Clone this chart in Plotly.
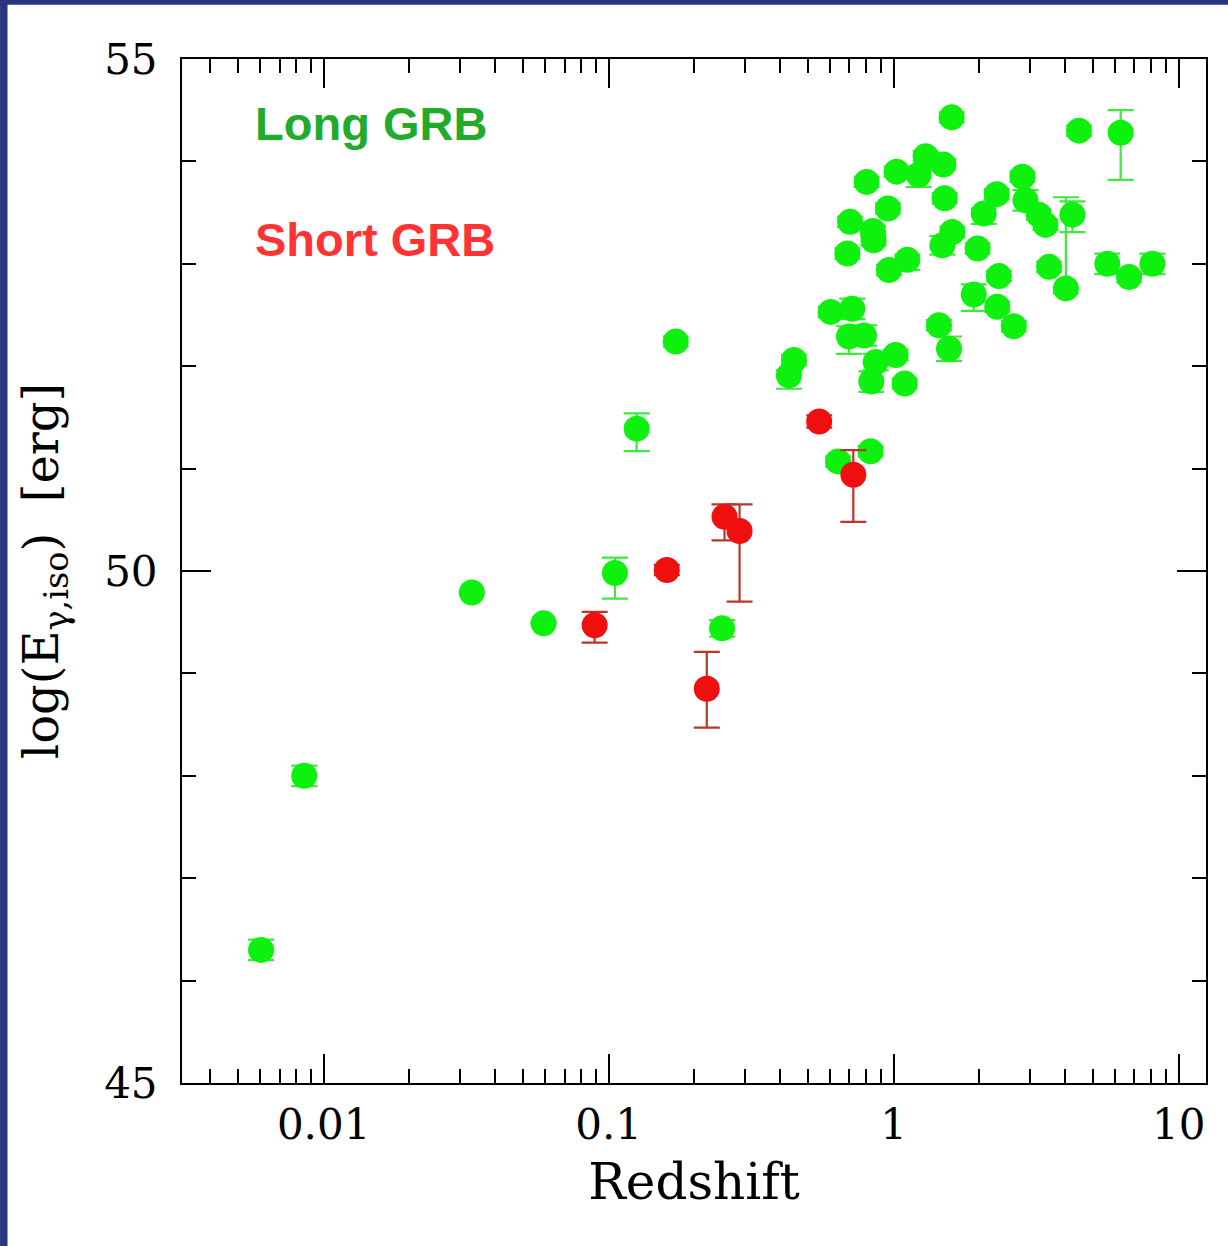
import plotly.graph_objects as go

# Long GRBs: redshift, log isotropic energy, lower / upper errors
long_z = [0.00603, 0.00855, 0.0331, 0.0591, 0.1052, 0.1254, 0.172, 0.250,
          0.429, 0.447, 0.601, 0.638, 0.688, 0.697, 0.703, 0.716, 0.787,
          0.804, 0.830, 0.835, 0.846, 0.850, 0.865, 0.955, 0.963, 1.016,
          1.024, 1.093, 1.117, 1.224, 1.295, 1.442, 1.482, 1.494, 1.51,
          1.564, 1.598, 1.606, 1.91, 1.97, 2.07, 2.30, 2.31, 2.34, 2.64,
          2.83, 2.90, 3.23, 3.41, 3.51, 4.02, 4.24, 4.47, 5.62, 6.26, 6.70,
          8.09]
long_e = [46.30, 48.00, 49.79, 49.49, 49.98, 51.39, 52.24, 49.44,
          51.91, 52.06, 52.53, 51.07, 53.10, 52.29, 53.41, 52.56, 52.30,
          53.80, 51.17, 51.85, 53.32, 53.23, 52.04, 53.54, 52.94, 52.11,
          53.90, 51.83, 53.04, 53.87, 54.05, 52.40, 53.18, 53.97, 53.64,
          52.17, 54.43, 53.31, 52.70, 53.15, 53.49, 53.68, 52.58, 52.88, 52.39,
          53.85, 53.62, 53.48, 53.38, 52.97, 52.76, 53.48, 54.30, 53.00, 54.28, 52.87,
          53.00]
long_err_lo = [0.10, 0.10, 0.0, 0.0, 0.25, 0.22, 0.05, 0.08,
               0.13, 0.05, 0.05, 0.05, 0.05, 0.17, 0.05, 0.10, 0.10,
               0.05, 0.05, 0.10, 0.05, 0.05, 0.08, 0.05, 0.05, 0.05,
               0.05, 0.05, 0.10, 0.12, 0.05, 0.05, 0.09, 0.05, 0.05,
               0.12, 0.05, 0.05, 0.16, 0.05, 0.10, 0.05, 0.05, 0.05, 0.05,
               0.05, 0.10, 0.05, 0.05, 0.05, 0.05, 0.17, 0.05, 0.10, 0.46, 0.05,
               0.10]
long_err_hi = [0.10, 0.10, 0.0, 0.0, 0.15, 0.15, 0.05, 0.08,
               0.05, 0.05, 0.05, 0.05, 0.05, 0.10, 0.05, 0.10, 0.10,
               0.05, 0.05, 0.10, 0.05, 0.05, 0.08, 0.05, 0.05, 0.05,
               0.05, 0.05, 0.05, 0.05, 0.05, 0.05, 0.09, 0.05, 0.05,
               0.12, 0.05, 0.05, 0.10, 0.05, 0.05, 0.05, 0.05, 0.05, 0.05,
               0.05, 0.10, 0.05, 0.05, 0.05, 0.89, 0.13, 0.05, 0.10, 0.22, 0.05,
               0.10]

# Short GRBs
short_z = [0.0893, 0.160, 0.221, 0.255, 0.288, 0.548, 0.722]
short_e = [49.47, 50.01, 48.85, 50.53, 50.39, 51.46, 50.94]
short_err_lo = [0.17, 0.05, 0.38, 0.23, 0.69, 0.06, 0.46]
short_err_hi = [0.13, 0.05, 0.36, 0.12, 0.26, 0.06, 0.24]

x_tickvals = [0.01, 0.1, 1, 10]
x_ticktext = ["0.01", "0.1", "1", "10"]
x_minor = [m * d for d in (0.001, 0.01, 0.1, 1) for m in range(2, 10)]
y_tickvals = [45, 50, 55]
y_ticktext = ["45", "50", "55"]

GREEN = "#0ef00e"
GREEN_BAR = "#3ee83e"
RED = "#f00f0f"
RED_BAR = "#b8372a"
SERIF = "DejaVu Serif"

fig = go.Figure()
fig.add_trace(go.Scatter(
    x=long_z, y=long_e, mode="markers",
    marker=dict(size=26, color=GREEN, line=dict(width=0)),
    error_y=dict(type="data", symmetric=False, array=long_err_hi,
                 arrayminus=long_err_lo, color=GREEN_BAR, thickness=2.2, width=13),
    showlegend=False,
))
fig.add_trace(go.Scatter(
    x=short_z, y=short_e, mode="markers",
    marker=dict(size=26, color=RED, line=dict(width=0)),
    error_y=dict(type="data", symmetric=False, array=short_err_hi,
                 arrayminus=short_err_lo, color=RED_BAR, thickness=2.2, width=13),
    showlegend=False,
))

axis_common = dict(
    showline=True, linecolor="black", linewidth=2, mirror="ticks",
    ticks="inside", tickcolor="black", tickwidth=2, ticklen=29,
    showgrid=False, zeroline=False,
    tickfont=dict(family=SERIF, size=42, color="black"),
)

fig.update_xaxes(
    type="log", range=[-2.497, 1.096],
    tickmode="array", tickvals=x_tickvals, ticktext=x_ticktext,
    ticklabelstandoff=4,
    minor=dict(tickmode="array", tickvals=x_minor, ticks="inside",
               ticklen=14, tickwidth=2, tickcolor="black", showgrid=False),
    title=dict(text="Redshift", font=dict(family=SERIF, size=50, color="black"),
               standoff=16),
    **axis_common,
)
fig.update_yaxes(
    range=[45, 55],
    tickmode="array", tickvals=y_tickvals, ticktext=y_ticktext,
    ticklabelstandoff=14,
    minor=dict(dtick=1, tick0=45, ticks="inside", ticklen=14, tickwidth=2,
               tickcolor="black", showgrid=False),
    title=dict(text="log(E<sub>γ,iso</sub>)  [erg]",
               font=dict(family=SERIF, size=48, color="black"), standoff=30),
    **axis_common,
)

fig.add_annotation(text="<b>Long GRB</b>", xref="paper", yref="paper",
                   x=0.069, y=0.937, xanchor="left", yanchor="middle",
                   showarrow=False,
                   font=dict(family="Liberation Sans", size=47, color="#22aa2a"))
fig.add_annotation(text="<b>Short GRB</b>", xref="paper", yref="paper",
                   x=0.069, y=0.824, xanchor="left", yanchor="middle",
                   showarrow=False,
                   font=dict(family="Liberation Sans", size=47, color="#ff3333"))

# navy frame strips along the left and top edges of the page
NAVY = "#2a3580"
fig.add_shape(type="rect", xref="paper", yref="paper",
              x0=-0.1777, x1=-0.1704, y0=-0.16, y1=1.06,
              fillcolor=NAVY, line=dict(width=0), layer="below")
fig.add_shape(type="rect", xref="paper", yref="paper",
              x0=-0.1777, x1=1.03, y0=1.0530, y1=1.06,
              fillcolor=NAVY, line=dict(width=0), layer="below")

fig.update_layout(
    width=1228, height=1246,
    margin=dict(l=182, r=22, t=59, b=163),
    paper_bgcolor="white", plot_bgcolor="white",
)

fig.write_html("out.html")
